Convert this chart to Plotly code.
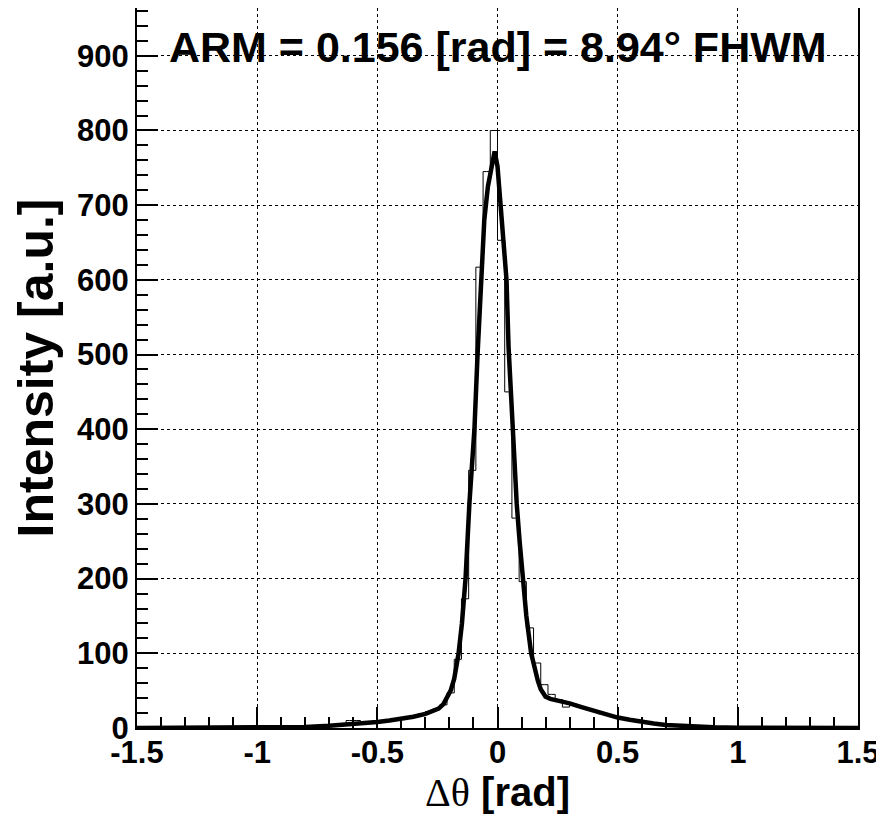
import plotly.graph_objects as go

# histogram: 100 bins of 0.03 rad from -1.5 to 1.5
bin_first_center = -1.485
bin_width = 0.03
counts = [
    0, 0, 0, 0, 0, 0, 0, 0, 0, 0,
    0, 0, 0, 0, 0, 0, 1, 0, 1, 0,
    1, 1, 2, 1, 3, 2, 3, 4, 5, 10,
    10, 6, 8, 8, 10, 11, 12, 14, 16, 19,
    22, 25, 31, 47, 92, 173, 345, 617, 745, 800,
    653, 450, 281, 196, 134, 87, 58, 45, 38, 28,
    32, 28, 25, 22, 19, 17, 14, 12, 10, 8,
    7, 6, 4, 3, 3, 2, 2, 1, 1, 1,
    0, 1, 0, 0, 0, 0, 0, 0, 0, 0,
    0, 0, 0, 0, 0, 0, 0, 0, 0, 0,
]

# fitted curve
fit_x = [-1.5, -1.2, -1.0, -0.9, -0.8, -0.7, -0.6, -0.5, -0.45, -0.4, -0.35, -0.3,
         -0.27, -0.245, -0.225, -0.21, -0.195, -0.18, -0.17, -0.162, -0.148,
         -0.133, -0.117, -0.105, -0.096, -0.083, -0.07, -0.055, -0.04, -0.025,
         -0.012, 0.0, 0.0125, 0.025, 0.0375, 0.046, 0.055, 0.063, 0.071, 0.08,
         0.092, 0.105, 0.12, 0.14, 0.155, 0.168, 0.18, 0.19, 0.2, 0.22, 0.25,
         0.3, 0.35, 0.4, 0.45, 0.5, 0.55, 0.6, 0.65, 0.7, 0.75, 0.8, 0.9, 1.0,
         1.2, 1.5]
fit_y = [0, 0, 0.5, 1, 1.5, 3, 5, 8, 10, 12, 15, 19,
         22, 26, 32, 40, 50, 66, 82, 100, 140,
         200, 300, 350, 400, 500, 600, 680, 725, 755,
         772, 752, 700, 655, 600, 510, 450, 400, 350, 300,
         250, 200, 150, 100, 78, 63, 52, 46, 42, 39, 37,
         33, 28, 23, 18, 14, 11, 8, 6, 4, 3, 2, 1, 0.5,
         0, 0]

x_ticks = [-1.5, -1, -0.5, 0, 0.5, 1, 1.5]
x_labels = ["-1.5", "-1", "-0.5", "0", "0.5", "1", "1.5"]
y_ticks = [0, 100, 200, 300, 400, 500, 600, 700, 800, 900]

label = "ARM = 0.156 [rad] = 8.94° FHWM"

sans = "Liberation Sans, Arial, sans-serif"

fig = go.Figure()
fig.add_trace(go.Scatter(
    y=counts, x0=bin_first_center, dx=bin_width,
    mode="lines", line=dict(color="black", width=1, shape="hvh"),
    showlegend=False,
))
fig.add_trace(go.Scatter(
    x=fit_x, y=fit_y, mode="lines",
    line=dict(color="black", width=4.5, shape="linear"),
    showlegend=False,
))

fig.add_annotation(
    x=0, y=912, xref="x", yref="y", text=label, showarrow=False,
    font=dict(family=sans, size=43, color="black", weight="bold"),
)

axis_common = dict(
    showline=True, linecolor="black", linewidth=2, mirror=True,
    ticks="inside", tickcolor="black", tickwidth=1.5, ticklen=21,
    showgrid=True, gridcolor="black", gridwidth=1, griddash="dot",
    zeroline=False, automargin=False,
    tickfont=dict(family=sans, size=31, color="black", weight="bold"),
)

fig.update_xaxes(
    range=[-1.5, 1.5], tickvals=x_ticks, ticktext=x_labels,
    minor=dict(dtick=0.1, ticks="inside", ticklen=11, tickcolor="black",
               tickwidth=1.5, showgrid=False),
    title=dict(
        text='<span style="font-family:Liberation Serif, Times New Roman, serif">Δθ</span> <b>[rad]</b>',
        font=dict(family=sans, size=40, color="black"),
        standoff=6,
    ),
    ticklabelstandoff=-4,
    **axis_common,
)
fig.update_yaxes(
    range=[0, 964], tickvals=y_ticks,
    minor=dict(dtick=20, ticks="inside", ticklen=11, tickcolor="black",
               tickwidth=1.5, showgrid=False),
    title=dict(text="Intensity [a.u.]",
               font=dict(family=sans, size=50, color="black", weight="bold"),
               standoff=11),
    **axis_common,
)

# the page body adds an 8px offset, so the margins are shifted by that much
fig.update_layout(
    width=884, height=824,
    margin=dict(l=129, r=34, t=0, b=104),
    plot_bgcolor="white", paper_bgcolor="white",
)

fig.write_html("out.html")
